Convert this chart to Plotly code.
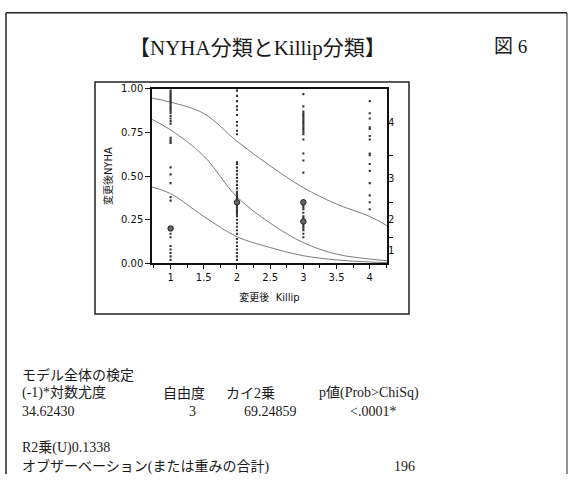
import plotly.graph_objects as go

W, H = 572, 480

# Observed response positions (cumulative-probability scale) for each Killip class
killip1_pos = [0.99, 0.98, 0.97, 0.96, 0.95, 0.94, 0.93, 0.92, 0.91, 0.90, 0.89, 0.88,
               0.87, 0.86, 0.845, 0.83, 0.815, 0.80, 0.72, 0.71, 0.70, 0.69, 0.55, 0.51,
               0.46, 0.38, 0.36, 0.17, 0.15, 0.10, 0.08, 0.06, 0.04, 0.02]
killip2_pos = [0.99, 0.96, 0.93, 0.90, 0.88, 0.85, 0.81, 0.79, 0.76, 0.74, 0.58, 0.57,
               0.55, 0.53, 0.51, 0.49, 0.47, 0.45, 0.43, 0.41, 0.40, 0.39, 0.38, 0.37,
               0.36, 0.34, 0.33, 0.32, 0.31, 0.30, 0.29, 0.28, 0.27, 0.25, 0.23, 0.21,
               0.19, 0.17, 0.14, 0.12, 0.10, 0.08, 0.06, 0.04, 0.02]
killip3_pos = [0.97, 0.90, 0.87, 0.86, 0.85, 0.84, 0.83, 0.82, 0.81, 0.80, 0.79, 0.78,
               0.77, 0.76, 0.75, 0.74, 0.71, 0.63, 0.59, 0.52, 0.36, 0.34, 0.33, 0.32,
               0.31, 0.29, 0.27, 0.26, 0.25, 0.23, 0.22, 0.21, 0.20, 0.19, 0.17, 0.15]
killip4_pos = [0.93, 0.86, 0.83, 0.78, 0.77, 0.73, 0.71, 0.63, 0.62, 0.57, 0.53, 0.46,
               0.39, 0.35, 0.31]

# Overlapping observations drawn as larger circles
cluster_killip = [1, 2, 3, 3]
cluster_pos = [0.20, 0.35, 0.35, 0.24]

# Fitted cumulative probability curves P(NYHA <= k)
curve_x = [0.72, 1.0, 1.5, 2.0, 2.5, 3.0, 3.5, 4.0, 4.26]
curve_le3 = [0.947, 0.924, 0.859, 0.700, 0.559, 0.434, 0.340, 0.269, 0.216]
curve_le2 = [0.825, 0.765, 0.615, 0.381, 0.231, 0.119, 0.053, 0.025, 0.015]
curve_le1 = [0.438, 0.400, 0.269, 0.153, 0.091, 0.044, 0.020, 0.008, 0.004]

# Marginal cumulative proportions of NYHA levels (right axis)
level_bounds = [0.15, 0.35, 0.62]
level_labels = ["1", "2", "3", "4"]

x_ticks = [1, 1.5, 2, 2.5, 3, 3.5, 4]
x_tick_text = ["1", "1.5", "2", "2.5", "3", "3.5", "4"]
y_ticks = [0, 0.25, 0.5, 0.75, 1.0]
y_tick_text = ["0.00", "0.25", "0.50", "0.75", "1.00"]


def px(x):
    return x / W


def py(y):
    return 1 - y / H


SERIF = "Liberation Serif, Noto Sans CJK JP, serif"
SANS = "DejaVu Sans, Noto Sans CJK JP, sans-serif"

fig = go.Figure()

for xs, ys in ((curve_x, curve_le3), (curve_x, curve_le2), (curve_x, curve_le1)):
    fig.add_trace(go.Scatter(x=xs, y=ys, mode="lines",
                             line=dict(color="#7a7a7a", width=1, shape="spline"),
                             hoverinfo="skip", showlegend=False))

obs_x, obs_y = [], []
for k, col in ((1, killip1_pos), (2, killip2_pos), (3, killip3_pos), (4, killip4_pos)):
    obs_x += [k] * len(col)
    obs_y += col

fig.add_trace(go.Scatter(x=obs_x, y=obs_y, mode="markers",
                         marker=dict(color="#333", size=2.1, symbol="square"),
                         showlegend=False))
fig.add_trace(go.Scatter(x=cluster_killip, y=cluster_pos, mode="markers",
                         marker=dict(color="#666", size=5.5,
                                     line=dict(color="#222", width=1)),
                         showlegend=False))

mids = []
lo = 0.0
for b in level_bounds + [1.0]:
    mids.append((lo + b) / 2)
    lo = b

x_dom = [px(152), px(387)]
y_dom = [py(264), py(85)]

axis_font = dict(family=SANS, size=10, color="#111")

fig.update_layout(
    width=W, height=H,
    margin=dict(l=0, r=0, t=0, b=0),
    paper_bgcolor="white", plot_bgcolor="white",
    showlegend=False,
    xaxis=dict(domain=x_dom, range=[0.72, 4.26], tickvals=x_ticks, ticktext=x_tick_text,
               ticks="outside", ticklen=4, tickwidth=1, tickcolor="#111",
               minor=dict(dtick=0.25, tick0=0, ticks="outside", ticklen=3, tickcolor="#111"),
               showline=True, linecolor="#111", linewidth=1.5, mirror=True,
               showgrid=False, zeroline=False, tickfont=axis_font,
               title=dict(text="変更後  Killip", font=dict(family=SANS, size=10, color="#111"),
                          standoff=12)),
    yaxis=dict(domain=y_dom, range=[0, 1], tickvals=y_ticks, ticktext=y_tick_text,
               ticks="outside", ticklen=5, tickwidth=1, tickcolor="#111",
               showline=True, linecolor="#111", linewidth=1.5, mirror=True,
               showgrid=False, zeroline=False, tickfont=axis_font,
               title=dict(text="変更後NYHA", font=dict(family=SANS, size=10, color="#111"),
                          standoff=6)),
    yaxis2=dict(overlaying="y", anchor="x", side="right", range=[0, 1],
                tickvals=level_bounds, ticktext=["", "", ""], ticks="outside",
                ticklen=5, tickcolor="#111", showline=False, showgrid=False,
                zeroline=False),
    yaxis3=dict(overlaying="y", anchor="x", side="right", range=[0, 1],
                tickvals=mids, ticktext=level_labels, ticks="", showline=False,
                showgrid=False, zeroline=False, tickfont=axis_font),
)

# Hidden traces to activate the overlaid right axes
fig.add_trace(go.Scatter(x=[None], y=[None], yaxis="y2", showlegend=False))
fig.add_trace(go.Scatter(x=[None], y=[None], yaxis="y3", showlegend=False))

shapes = [
    # page border
    dict(type="line", xref="paper", yref="paper", x0=px(6), x1=px(6), y0=0, y1=py(7),
         line=dict(color="#222", width=1.5)),
    dict(type="line", xref="paper", yref="paper", x0=px(6), x1=px(567), y0=py(7), y1=py(7),
         line=dict(color="#222", width=1.5)),
    dict(type="line", xref="paper", yref="paper", x0=px(567), x1=px(567), y0=0, y1=py(7),
         line=dict(color="#222", width=1)),
    # report frame around the plot
    dict(type="rect", xref="paper", yref="paper", x0=px(95), x1=px(409),
         y0=py(316), y1=py(78), line=dict(color="#222", width=1.5)),
]
fig.update_layout(shapes=shapes)

annotations = [
    dict(text="【NYHA分類とKillip分類】", x=px(257), y=py(43), font=dict(family=SERIF, size=21)),
    dict(text="図 6", x=px(510), y=py(42), font=dict(family=SERIF, size=19)),
    dict(text="モデル全体の検定", x=px(20), y=py(378), xanchor="left"),
    dict(text="(-1)*対数尤度", x=px(20), y=py(397), xanchor="left"),
    dict(text="自由度", x=px(161), y=py(397), xanchor="left"),
    dict(text="カイ2乗", x=px(224), y=py(397), xanchor="left"),
    dict(text="p値(Prob>ChiSq)", x=px(317), y=py(397), xanchor="left"),
    dict(text="34.62430", x=px(20), y=py(416), xanchor="left"),
    dict(text="3", x=px(192), y=py(416), xanchor="center"),
    dict(text="69.24859", x=px(242), y=py(416), xanchor="left"),
    dict(text="<.0001*", x=px(348), y=py(416), xanchor="left"),
    dict(text="R2乗(U)0.1338", x=px(20), y=py(453), xanchor="left"),
    dict(text="オブザーベーション(または重みの合計)", x=px(20), y=py(472), xanchor="left"),
    dict(text="196", x=px(392), y=py(472), xanchor="left"),
]
for a in annotations:
    a.setdefault("font", dict(family=SERIF, size=14))
    a["font"].setdefault("color", "#1a1a1a")
    a.update(xref="paper", yref="paper", showarrow=False, yanchor="middle")
    a.setdefault("xanchor", "center")
fig.update_layout(annotations=annotations)

fig.write_html("out.html")
